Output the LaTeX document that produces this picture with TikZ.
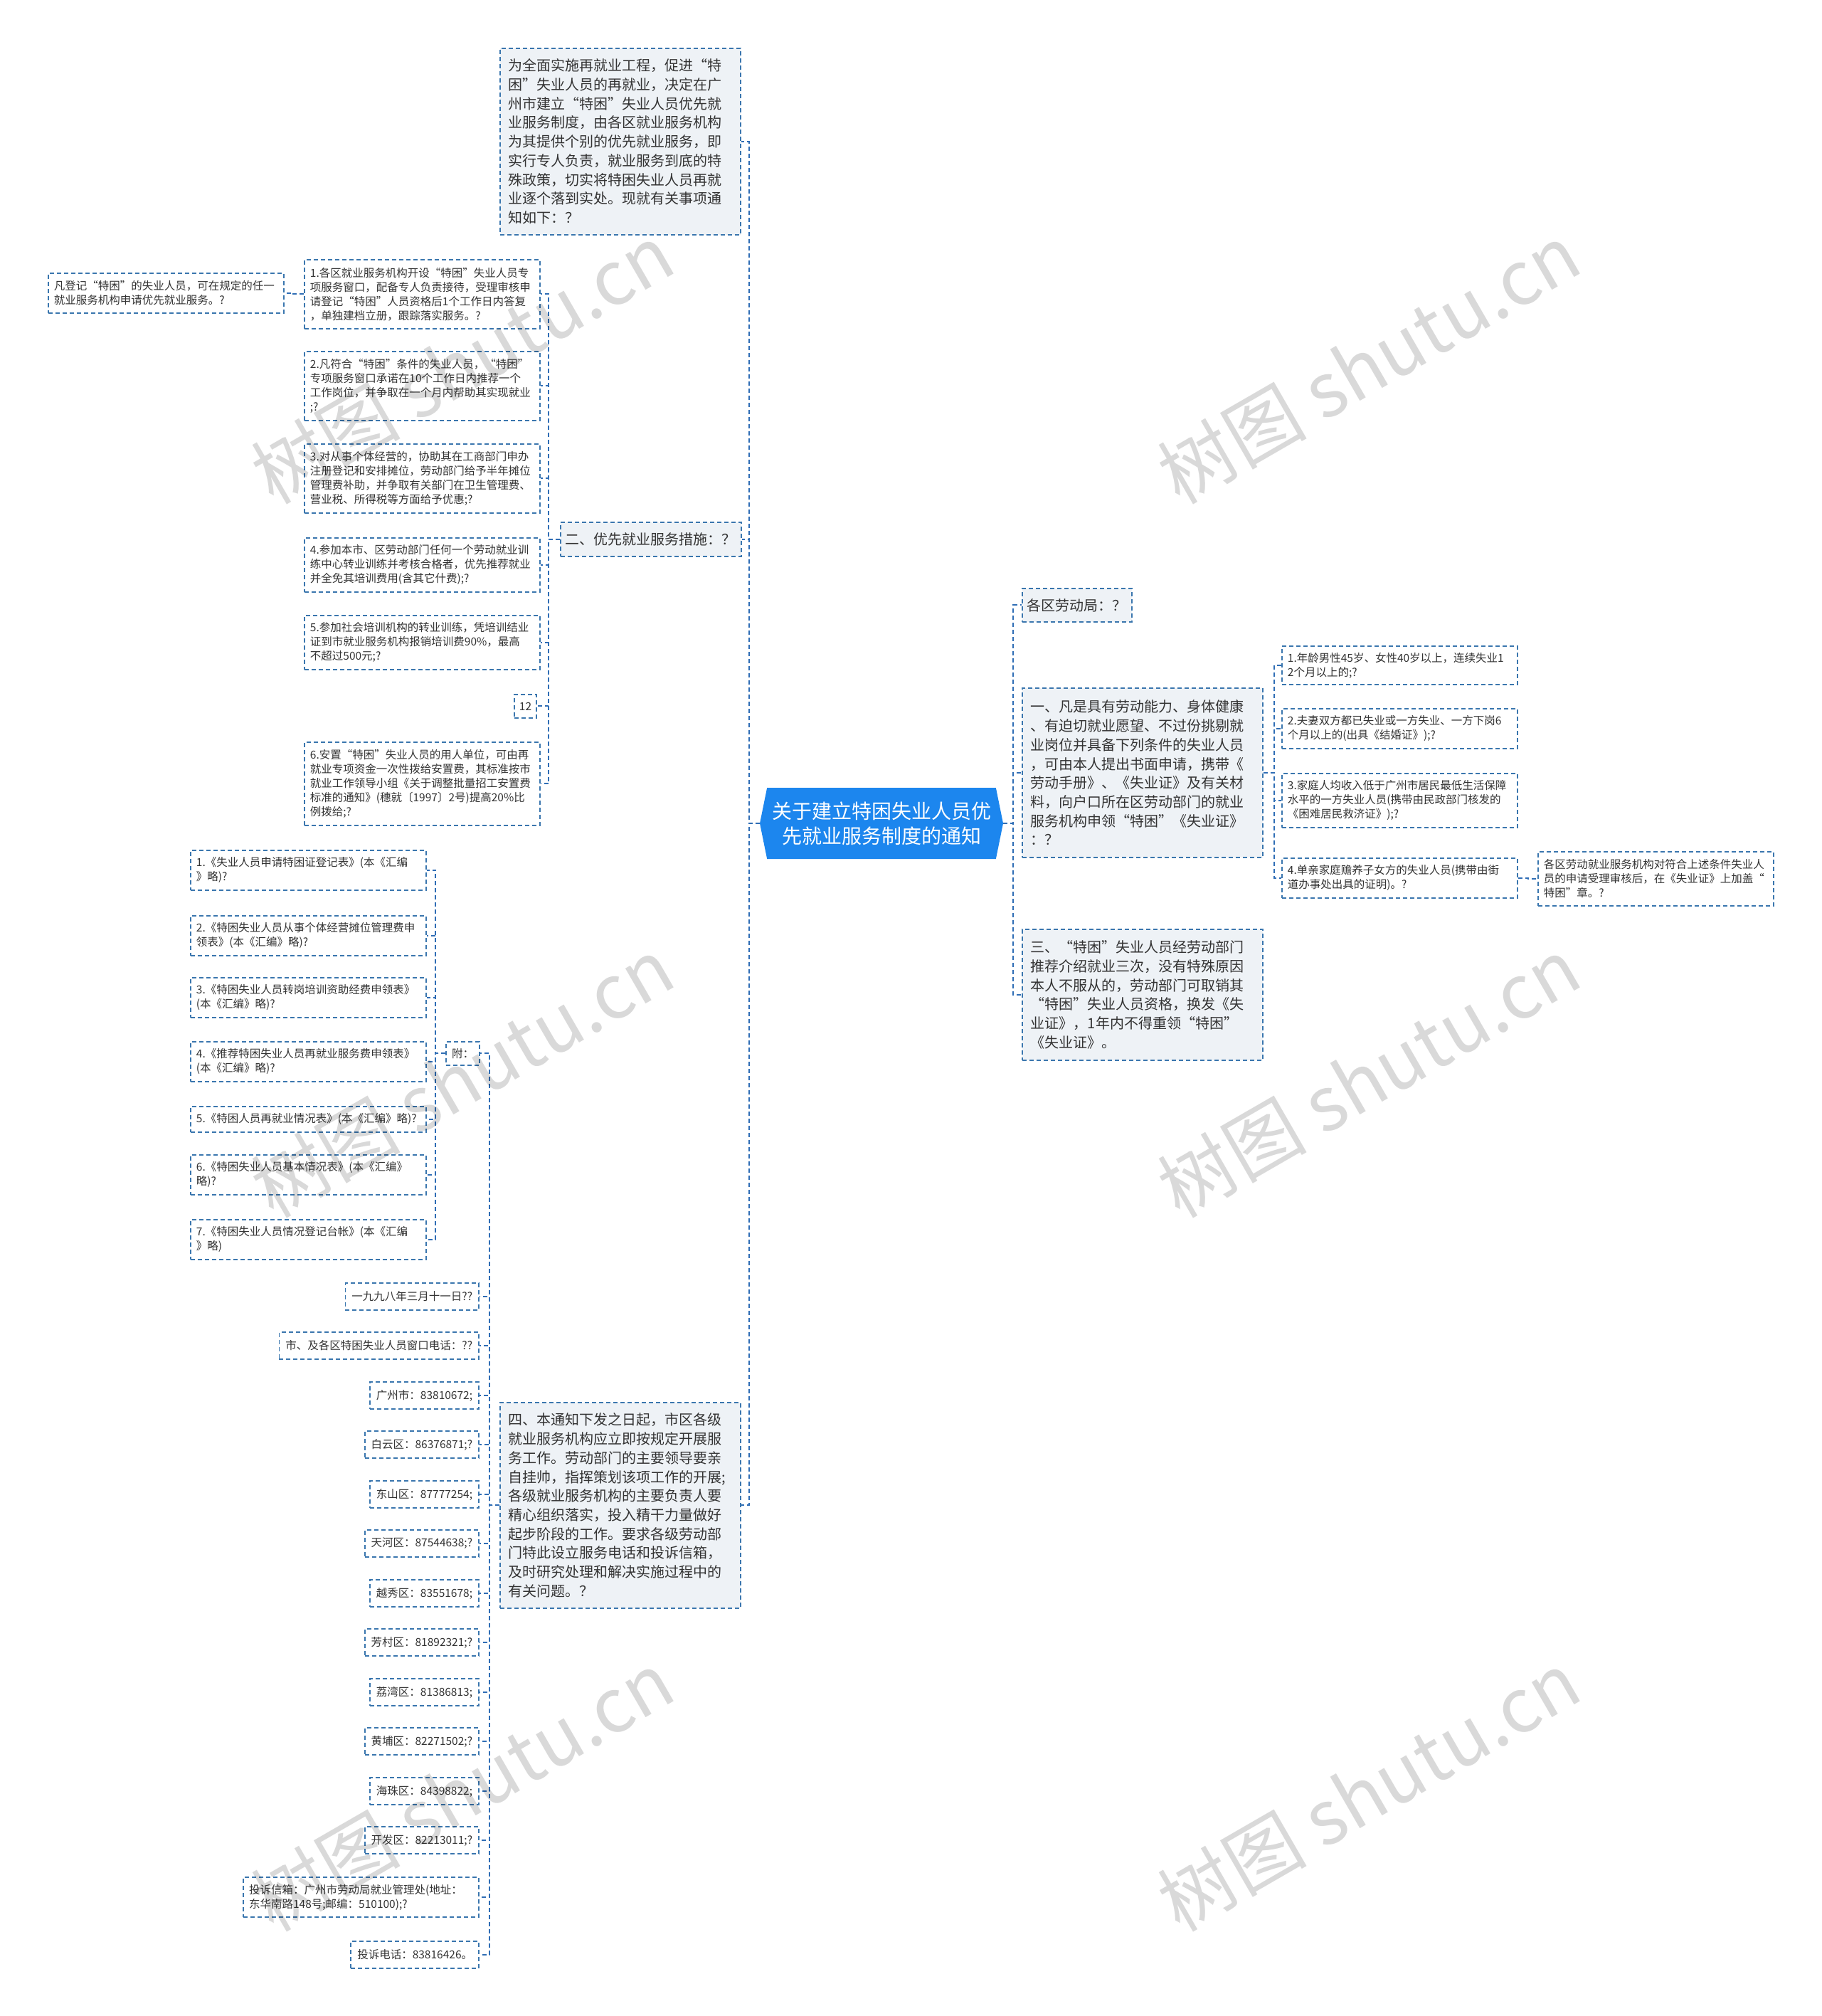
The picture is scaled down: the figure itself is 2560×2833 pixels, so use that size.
\documentclass[tikz,border=0pt]{standalone}
\usepackage{fontspec}
\setmainfont{Noto Sans CJK SC}
\usetikzlibrary{shapes.symbols}
\definecolor{bd}{HTML}{3A76AE}
\definecolor{cn}{HTML}{2F6DB5}
\definecolor{fl}{HTML}{EEF2F6}
\definecolor{tx}{HTML}{333333}
\definecolor{rootc}{HTML}{1C86EE}
\begin{document}
\begin{tikzpicture}[x=1pt,y=-1pt,
  base/.style={draw=bd, line width=1.8pt, dash pattern=on 6pt off 4pt, text=tx, align=left, inner ysep=0pt},
  big/.style={base, fill=fl, font=\fontsize{20}{26.7}\selectfont, inner xsep=12pt, text width=314pt},
  bigs/.style={base, fill=fl, font=\fontsize{20}{26.7}\selectfont, inner xsep=7pt, minimum height=48pt},
  small/.style={base, fill=white, font=\fontsize{15.5}{20}\selectfont, inner xsep=8pt, text width=315pt},
  tiny/.style={base, fill=white, font=\fontsize{15.5}{20}\selectfont, inner xsep=9pt, minimum height=38pt},
  conn/.style={draw=cn, line width=2pt, dash pattern=on 6pt off 4pt},
  wm/.style={rotate=30, font=\fontsize{105}{105}\selectfont, text=black, opacity=0.15}
]
\useasboundingbox (0,0) rectangle (2560,2833);
\fill[white] (0,0) rectangle (2560,2833);

% root
\node[signal, signal to=west and east, signal pointer angle=157, fill=rootc, text=white,
  minimum width=342pt, minimum height=100pt, inner sep=0pt, align=center,
  font=\fontsize{28}{35}\selectfont] (root) at (1239,1157) {关于建立特困失业人员优\\先就业服务制度的通知};

% left level 1
\node[big, anchor=north west, minimum height=262pt] (topp) at (702,67) {为全面实施再就业工程，促进“特\\困”失业人员的再就业，决定在广\\州市建立“特困”失业人员优先就\\业服务制度，由各区就业服务机构\\为其提供个别的优先就业服务，即\\实行专人负责，就业服务到底的特\\殊政策，切实将特困失业人员再就\\业逐个落到实处。现就有关事项通\\知如下：？};
\node[bigs, anchor=north west] (two) at (787,733) {二、优先就业服务措施：？};
\node[big, anchor=north west, minimum height=289pt] (four) at (702,1970) {四、本通知下发之日起，市区各级\\就业服务机构应立即按规定开展服\\务工作。劳动部门的主要领导要亲\\自挂帅，指挥策划该项工作的开展;\\各级就业服务机构的主要负责人要\\精心组织落实，投入精干力量做好\\起步阶段的工作。要求各级劳动部\\门特此设立服务电话和投诉信箱，\\及时研究处理和解决实施过程中的\\有关问题。？};

% items under two
\node[small, anchor=north west, minimum height=97pt] (i1) at (427,364) {1.各区就业服务机构开设“特困”失业人员专\\项服务窗口，配备专人负责接待，受理审核申\\请登记“特困”人员资格后1个工作日内答复\\，单独建档立册，跟踪落实服务。?};
\node[small, anchor=north west, minimum height=97pt] (i2) at (427,493) {2.凡符合“特困”条件的失业人员，“特困”\\专项服务窗口承诺在10个工作日内推荐一个\\工作岗位，并争取在一个月内帮助其实现就业\\;?};
\node[small, anchor=north west, minimum height=97pt] (i3) at (427,623) {3.对从事个体经营的，协助其在工商部门申办\\注册登记和安排摊位，劳动部门给予半年摊位\\管理费补助，并争取有关部门在卫生管理费、\\营业税、所得税等方面给予优惠;?};
\node[small, anchor=north west, minimum height=76pt] (i4) at (427,755) {4.参加本市、区劳动部门任何一个劳动就业训\\练中心转业训练并考核合格者，优先推荐就业\\并全免其培训费用(含其它什费);?};
\node[small, anchor=north west, minimum height=76pt] (i5) at (427,864) {5.参加社会培训机构的转业训练，凭培训结业\\证到市就业服务机构报销培训费90\%，最高\\不超过500元;?};
\node[tiny, anchor=north east, minimum height=33pt, inner xsep=7pt] (twelve) at (755,975) {12};
\node[small, anchor=north west, minimum height=117pt] (i6) at (427,1042) {6.安置“特困”失业人员的用人单位，可由再\\就业专项资金一次性拨给安置费，其标准按市\\就业工作领导小组《关于调整批量招工安置费\\标准的通知》(穗就〔1997〕2号)提高20\%比\\例拨给;?};
\node[small, anchor=north west, minimum height=56pt] (c1) at (67,383) {凡登记“特困”的失业人员，可在规定的任一\\就业服务机构申请优先就业服务。?};

% children of four
\node[tiny, anchor=north east, minimum height=33pt, inner xsep=8pt] (fu) at (675,1463) {附：};
\node[small, anchor=north west, minimum height=56pt] (a1) at (267,1194) {1.《失业人员申请特困证登记表》(本《汇编\\》略)?};
\node[small, anchor=north west, minimum height=56pt] (a2) at (267,1286) {2.《特困失业人员从事个体经营摊位管理费申\\领表》(本《汇编》略)?};
\node[small, anchor=north west, minimum height=56pt] (a3) at (267,1373) {3.《特困失业人员转岗培训资助经费申领表》\\(本《汇编》略)?};
\node[small, anchor=north west, minimum height=56pt] (a4) at (267,1463) {4.《推荐特困失业人员再就业服务费申领表》\\(本《汇编》略)?};
\node[small, anchor=north west, minimum height=36pt] (a5) at (267,1554) {5.《特困人员再就业情况表》(本《汇编》略)?};
\node[small, anchor=north west, minimum height=56pt] (a6) at (267,1622) {6.《特困失业人员基本情况表》(本《汇编》\\略)?};
\node[small, anchor=north west, minimum height=56pt] (a7) at (267,1713) {7.《特困失业人员情况登记台帐》(本《汇编\\》略)};

\node[tiny, anchor=east] (date) at (674,1822) {一九九八年三月十一日??};
\node[tiny, anchor=east] (shi) at (674,1891) {市、及各区特困失业人员窗口电话：??};
\node[tiny, anchor=east] (gz) at (674,1961) {广州市：83810672;};
\node[tiny, anchor=east] (by) at (674,2030) {白云区：86376871;?};
\node[tiny, anchor=east] (ds) at (674,2100) {东山区：87777254;};
\node[tiny, anchor=east] (th) at (674,2169) {天河区：87544638;?};
\node[tiny, anchor=east] (yx) at (674,2239) {越秀区：83551678;};
\node[tiny, anchor=east] (fc) at (674,2308) {芳村区：81892321;?};
\node[tiny, anchor=east] (lw) at (674,2378) {荔湾区：81386813;};
\node[tiny, anchor=east] (hp) at (674,2447) {黄埔区：82271502;?};
\node[tiny, anchor=east] (hz) at (674,2517) {海珠区：84398822;};
\node[tiny, anchor=east] (kf) at (674,2586) {开发区：82213011;?};
\node[small, anchor=east, minimum height=56pt] (xx) at (674,2666) {投诉信箱：广州市劳动局就业管理处(地址：\\东华南路148号;邮编：510100);?};
\node[tiny, anchor=east] (dh) at (674,2747) {投诉电话：83816426。};

% right side
\node[bigs, anchor=north west, minimum height=47pt] (gq) at (1436,826) {各区劳动局：？};
\node[big, anchor=north west, minimum height=238pt] (one) at (1436,966) {一、凡是具有劳动能力、身体健康\\、有迫切就业愿望、不过份挑剔就\\业岗位并具备下列条件的失业人员\\，可由本人提出书面申请，携带《\\劳动手册》、《失业证》及有关材\\料，向户口所在区劳动部门的就业\\服务机构申领“特困”《失业证》\\：？};
\node[big, anchor=north west, minimum height=184pt] (three) at (1436,1305) {三、“特困”失业人员经劳动部门\\推荐介绍就业三次，没有特殊原因\\本人不服从的，劳动部门可取销其\\“特困”失业人员资格，换发《失\\业证》，1年内不得重领“特困”\\《失业证》。};
\node[small, anchor=north west, minimum height=54pt] (r1) at (1801,907) {1.年龄男性45岁、女性40岁以上，连续失业1\\2个月以上的;?};
\node[small, anchor=north west, minimum height=56pt] (r2) at (1801,995) {2.夫妻双方都已失业或一方失业、一方下岗6\\个月以上的(出具《结婚证》);?};
\node[small, anchor=north west, minimum height=76pt] (r3) at (1801,1086) {3.家庭人均收入低于广州市居民最低生活保障\\水平的一方失业人员(携带由民政部门核发的\\《困难居民救济证》);?};
\node[small, anchor=north west, minimum height=56pt] (r4) at (1801,1205) {4.单亲家庭赡养子女方的失业人员(携带由街\\道办事处出具的证明)。?};
\node[small, anchor=north west, minimum height=76pt] (r4c) at (2161,1196) {各区劳动就业服务机构对符合上述条件失业人\\员的申请受理审核后，在《失业证》上加盖“\\特困”章。?};

% connectors
\foreach \c in {topp,two,four} \draw[conn] (root.west) -- ++(-15,0) |- (\c.east);
\foreach \c in {gq,one,three} \draw[conn] (root.east) -- ++(14,0) |- (\c.west);
\foreach \c in {i1,i2,i3,i4,i5,twelve,i6} \draw[conn] (two.west) -- ++(-16,0) |- (\c.east);
\draw[conn] (i1.west) -- ++(-15,0) |- (c1.east);
\foreach \c in {fu,date,shi,gz,by,ds,th,yx,fc,lw,hp,hz,kf,xx,dh} \draw[conn] (four.west) -- ++(-14,0) |- (\c.east);
\foreach \c in {a1,a2,a3,a4,a5,a6,a7} \draw[conn] (fu.west) -- ++(-14,0) |- (\c.east);
\foreach \c in {r1,r2,r3,r4} \draw[conn] (one.east) -- ++(15,0) |- (\c.west);
\draw[conn] (r4.east) -- ++(14,0) |- (r4c.west);

% watermarks
\node[wm] (w1) at (650,511) {树图 shutu.cn};
\node[wm] (w2) at (1924,511) {树图 shutu.cn};
\node[wm] (w3) at (650,1514) {树图 shutu.cn};
\node[wm] (w4) at (1924,1514) {树图 shutu.cn};
\node[wm] (w5) at (650,2517) {树图 shutu.cn};
\node[wm] (w6) at (1924,2517) {树图 shutu.cn};
\end{tikzpicture}
\end{document}
